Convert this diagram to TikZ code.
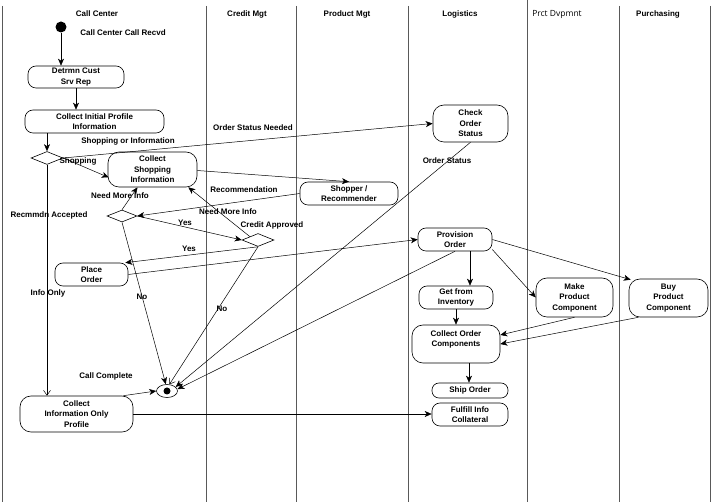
\documentclass[tikz,border=0pt]{standalone}
\usepackage{fontspec}
\setmainfont{Liberation Sans}
\newfontfamily\hdrfont{Open Sans}
\usetikzlibrary{arrows.meta,shapes.geometric}
\begin{document}
\begin{tikzpicture}[x=1pt,y=-1pt,
  lab/.style={font=\fontsize{8}{10.5}\selectfont\bfseries, inner sep=0pt},
  box/.style={draw, rounded corners=8pt, align=center, inner sep=1pt,
    font=\fontsize{8}{10.5}\selectfont\bfseries, line width=0.6pt},
  bigbox/.style={box, rounded corners=11pt},
  dec/.style={diamond, draw, inner sep=0pt, line width=0.6pt},
  arr/.style={line width=0.5pt,-{Stealth[length=7pt,width=6pt,inset=2pt]}},
  oarr/.style={line width=0.5pt,-{Straight Barb[length=5pt,width=7pt]}},
  lane/.style={draw=black!65, line width=1pt}]
\useasboundingbox (0,0) rectangle (713,502);
\fill[white] (0,0) rectangle (713,502);

% swimlanes
\draw[lane] (2,6) -- (2,502);
\draw[lane] (206,6) -- (206,502);
\draw[lane] (296,6) -- (296,502);
\draw[lane] (408,6) -- (408,502);
\draw[lane] (527,0) -- (527,502);
\draw[lane] (619,6) -- (619,502);
\draw[lane] (710,6) -- (710,502);

% headers
\node[lab] (h1) at (97,14) {Call Center};
\node[lab] (h2) at (247,14) {Credit Mgt};
\node[lab] (h3) at (347,14) {Product Mgt};
\node[lab] (h4) at (460,14) {Logistics};
\node[inner sep=0pt, font=\hdrfont\fontsize{8.5}{10}\selectfont] (h5) at (557,14) {Prct Dvpmnt};
\node[lab] (h6) at (658,14) {Purchasing};

% nodes
\node[circle, fill, minimum size=11pt, inner sep=0pt] (start) at (61,27) {};
\node[lab] (startlbl) at (123,33) {Call Center Call Recvd};
\node[box, minimum width=96pt, minimum height=22pt] (detrmn) at (76,77) {Detrmn Cust\\Srv Rep};
\node[box, minimum width=139pt, minimum height=23pt] (initial) at (94.5,121.5) {Collect Initial Profile\\Information};
\node[dec, minimum width=32pt, minimum height=13pt] (d1) at (47,158) {};
\node[bigbox, minimum width=89pt, minimum height=35pt] (shopinfo) at (152.5,169.5) {Collect\\Shopping\\Information};
\node[box, minimum width=98pt, minimum height=23pt] (shopper) at (349,193.5) {Shopper /\\Recommender};
\node[dec, minimum width=30pt, minimum height=12pt] (d2) at (122,216) {};
\node[dec, minimum width=32pt, minimum height=13pt] (d3) at (258,240) {};
\node[box, minimum width=73pt, minimum height=23pt] (place) at (91.5,274.5) {Place\\Order};
\node[bigbox, minimum width=113pt, minimum height=36pt] (infoonly) at (76.5,414) {Collect\\Information Only\\Profile};
\node[ellipse, draw, minimum width=21pt, minimum height=13pt, inner sep=0pt, line width=0.6pt] (final) at (167,391) {};
\fill (final.center) circle (3.5pt);
\node[bigbox, minimum width=75pt, minimum height=37pt] (check) at (470.5,123.5) {Check\\Order\\Status};
\node[box, minimum width=74pt, minimum height=23pt] (provision) at (455,239.5) {Provision\\Order};
\node[box, minimum width=74pt, minimum height=23pt] (inventory) at (456,297.5) {Get from\\Inventory};
\node[bigbox, minimum width=88pt, minimum height=38pt] (components) at (456,344) {Collect Order\\Components\\\mbox{}};
\node[box, minimum width=76pt, minimum height=15pt, rounded corners=7pt] (ship) at (470,390.5) {Ship Order};
\node[box, minimum width=76pt, minimum height=23pt] (fulfill) at (470,414.5) {Fulfill Info\\Collateral};
\node[bigbox, minimum width=77pt, minimum height=39pt] (make) at (574.5,297.5) {Make\\Product\\Component};
\node[bigbox, minimum width=79pt, minimum height=38pt] (buy) at (668.5,298) {Buy\\Product\\Component};

% connectors
\draw[arr] (start) -- (start |- detrmn.north);
\draw[arr] (detrmn.south) -- (detrmn.south |- initial.north);
\draw[arr] (d1 |- initial.south) -- (d1.north);
\draw[arr] (d1.east) -- (check.west);
\draw[arr] (d1.east) -- ([xshift=1pt,yshift=-8pt]shopinfo.west);
\draw[oarr] (d1.south) -- (d1 |- infoonly.north);
\draw[arr] ([yshift=-1pt]shopinfo.east) -- (shopper.north);
\draw[arr] (shopper.west) -- (d2.east);
\draw[arr] (d2.north) -- ([xshift=-15pt]shopinfo.south);
\draw[arr] (d3.north west) -- ([xshift=-9pt]shopinfo.south east);
\draw[arr] (d2.east) -- (d3.west);
\draw[arr] (d3.south) -- ([xshift=-3pt]place.north east);
\draw[oarr] (d3.south) -- (final.70);
\draw[arr] (d2.south) -- (final.100);
\draw[arr] (place.east) -- (provision.west);
\draw[arr] (check.south) -- (final.25);
\draw[arr] (provision.south) -- (final.10);
\draw[arr] ([xshift=-10pt]infoonly.north east) -- (final.west);
\draw[arr] (infoonly.east) -- (infoonly.east -| fulfill.west);
\draw[arr] ([xshift=15pt]provision.south) -- ([xshift=15pt]provision.south |- inventory.north);
\draw[arr] (inventory.south) -- (inventory.south |- components.north);
\draw[arr] ([xshift=13pt]components.south) -- ([xshift=13pt]components.south |- ship.north);
\draw[arr] (provision.-15) -- (make.west);
\draw[arr] (provision.east) -- ([xshift=2pt,yshift=-1pt]buy.north west);
\draw[arr] (make.south) -- ([yshift=9pt]components.east);
\draw[arr] ([xshift=-30pt]buy.south) -- (components.east);

% connector labels
\node[lab] (l1) at (128,141) {Shopping or Information};
\node[lab] (l2) at (253,128) {Order Status Needed};
\node[lab] (l3) at (78,161) {Shopping};
\node[lab] (l4) at (49,215) {Recmmdn Accepted};
\node[lab] (l5) at (120,196) {Need More Info};
\node[lab] (l6) at (244,190) {Recommendation};
\node[lab] (l7) at (228,212) {Need More Info};
\node[lab] (l8) at (185,223) {Yes};
\node[lab] (l9) at (272,225) {Credit Approved};
\node[lab] (l10) at (189,249) {Yes};
\node[lab] (l11) at (48,293) {Info Only};
\node[lab] (l12) at (142,297) {No};
\node[lab] (l13) at (222,309) {No};
\node[lab] (l14) at (106,376) {Call Complete};
\node[lab] (l15) at (447,161) {Order Status};
\end{tikzpicture}
\end{document}
